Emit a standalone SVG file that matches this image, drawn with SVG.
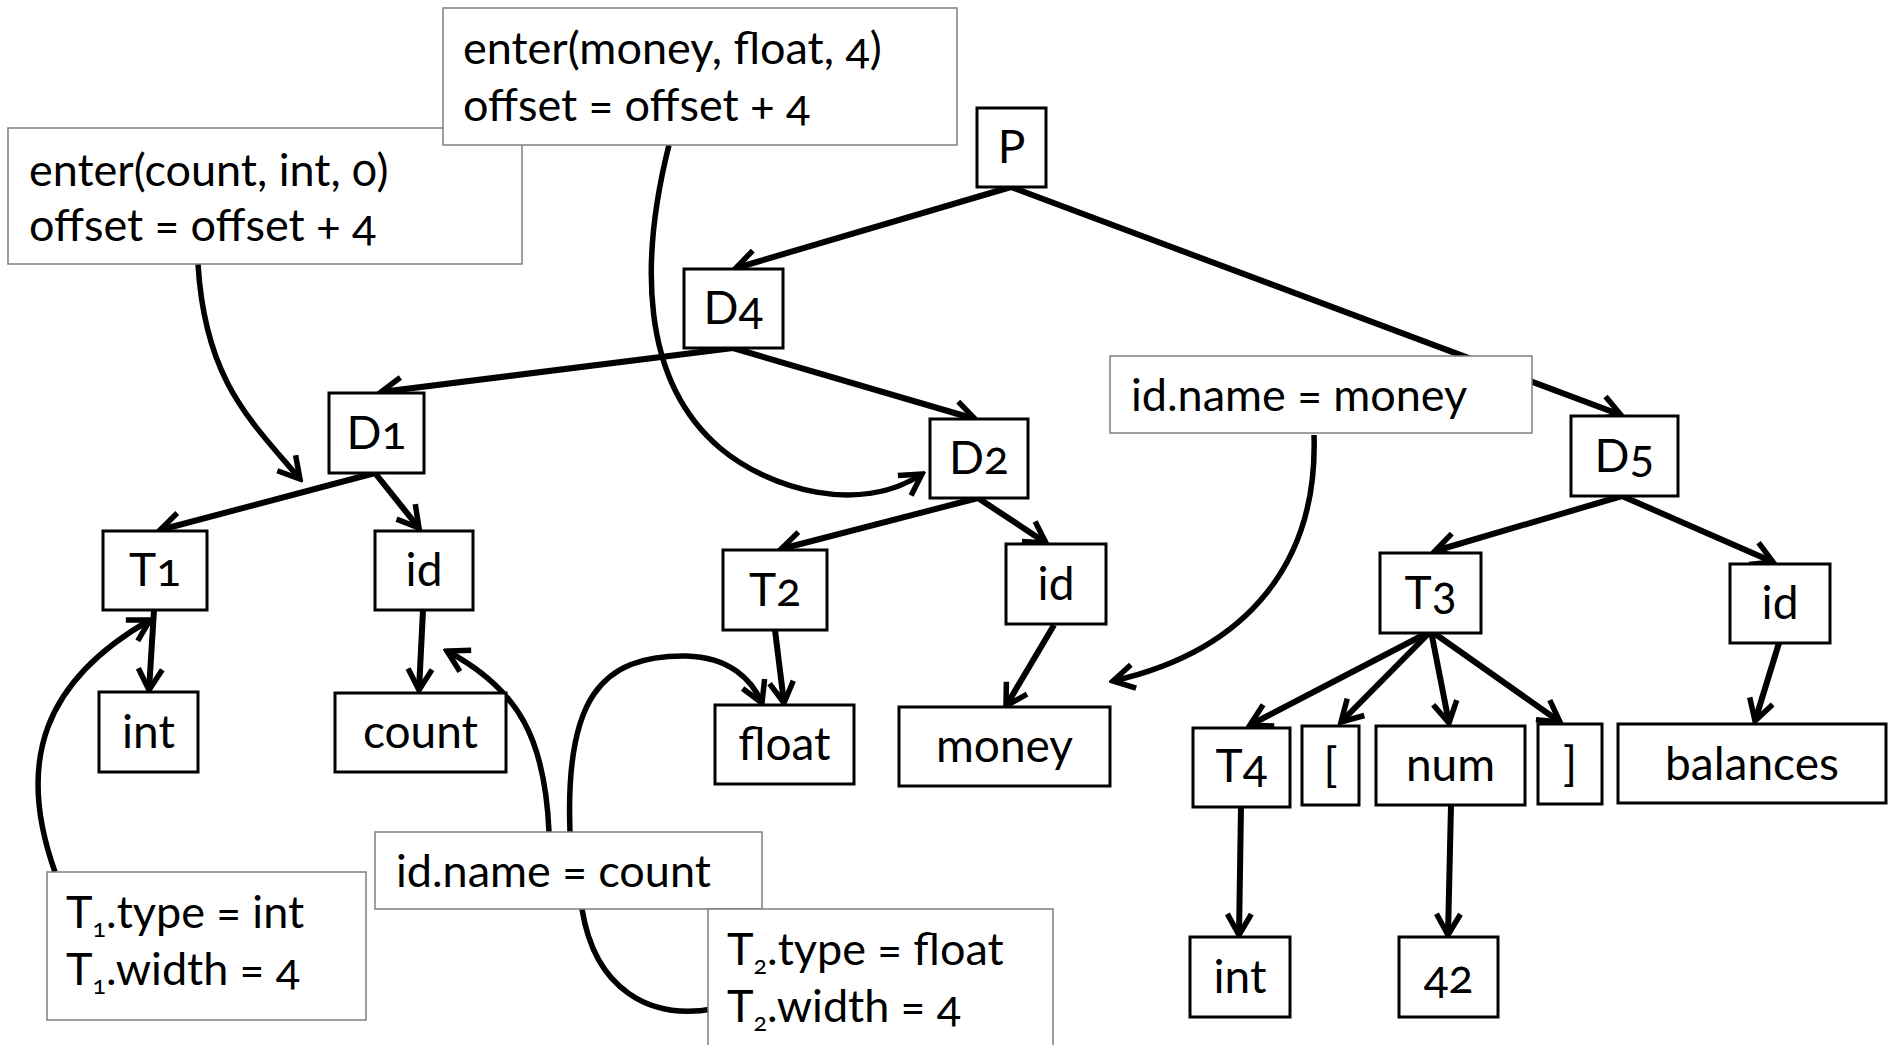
<svg xmlns="http://www.w3.org/2000/svg" width="1893" height="1045" viewBox="0 0 1893 1045">
  <defs>
    <style>
      text { font-family: Lato, "Open Sans", "Liberation Sans", sans-serif; fill: #000; font-variant-numeric: oldstyle-nums; }
      .node rect { fill: #fff; stroke: #000; stroke-width: 3; }
      .node text { font-size: 46px; text-anchor: middle; }
      .note rect { fill: #fff; stroke: #7f7f7f; stroke-width: 1.5; }
      .note text { font-size: 45px; }
      .sub { font-size: 25px; }
      .edge { fill: none; stroke: #000; stroke-width: 6; marker-end: url(#chev); }
      .link { fill: none; stroke: #000; stroke-width: 5.5; }
      .link.arrow { marker-end: url(#chev); }
    </style>
    <marker id="chev" markerUnits="userSpaceOnUse" viewBox="-28 -18 32 36" markerWidth="32" markerHeight="36" refX="0" refY="0" orient="auto">
      <path d="M-21,-12 L0,0 L-21,12" fill="none" stroke="#000" stroke-width="5.5" stroke-linejoin="miter"/>
    </marker>
  </defs>

  <!-- parse tree edges -->
  <g id="connectors">
    <path class="edge" d="M1011,187 L736,268"/>
    <path class="edge" d="M1011,187 L1621,415"/>
    <path class="edge" d="M733,348 L381,392"/>
    <path class="edge" d="M733,348 L975,419"/>
    <path class="edge" d="M375,473 L160,530"/>
    <path class="edge" d="M375,473 L419,528"/>
    <path class="edge" d="M154,610 L149,690"/>
    <path class="edge" d="M423,610 L419,690"/>
    <path class="edge" d="M978,498 L781,549"/>
    <path class="edge" d="M978,498 L1046,543"/>
    <path class="edge" d="M775,630 L784,703"/>
    <path class="edge" d="M1054,625 L1006,706"/>
    <path class="edge" d="M1622,496 L1435,551"/>
    <path class="edge" d="M1622,496 L1773,562"/>
    <path class="edge" d="M1431,631 L1250,725"/>
    <path class="edge" d="M1431,631 L1341,722"/>
    <path class="edge" d="M1431,631 L1449,723"/>
    <path class="edge" d="M1431,631 L1560,722"/>
    <path class="edge" d="M1779,643 L1755,721"/>
    <path class="edge" d="M1241,807 L1239,935"/>
    <path class="edge" d="M1451,805 L1448,935"/>

    <!-- attribute annotations pointing into the tree -->
    <path class="link arrow" d="M198,264 C205,380 250,420 300,479"/>
    <path class="link arrow" d="M669,145 C640,260 640,380 720,448 C770,490 860,515 922,474"/>
    <path class="link arrow" d="M1314,435 C1318,560 1250,650 1113,681"/>
    <path class="link arrow" d="M55,872 C15,760 45,680 150,620"/>
    <path class="link arrow" d="M549,832 C545,740 520,690 447,651"/>
    <path class="link arrow" d="M570,832 C565,700 600,655 686,656 C730,657 752,680 762,703"/>
    <path class="link" d="M582,909 C595,990 650,1020 713,1009"/>
  </g>

  <!-- tree nodes -->
  <g id="n-P" class="node"><rect x="977" y="108" width="69" height="79"/><text x="1011.5" y="163">P</text></g>
  <g id="n-D4" class="node"><rect x="684" y="269" width="99" height="79"/><text x="733.5" y="324">D4</text></g>
  <g id="n-D1" class="node"><rect x="329" y="393" width="95" height="80"/><text x="376.5" y="449">D1</text></g>
  <g id="n-D2" class="node"><rect x="930" y="419" width="98" height="79"/><text x="979" y="474">D2</text></g>
  <g id="n-D5" class="node"><rect x="1571" y="416" width="107" height="80"/><text x="1624.5" y="472">D5</text></g>
  <g id="n-T1" class="node"><rect x="103" y="531" width="104" height="79"/><text x="155" y="586">T1</text></g>
  <g id="n-id1" class="node"><rect x="375" y="531" width="98" height="79"/><text x="424" y="586">id</text></g>
  <g id="n-T2" class="node"><rect x="723" y="550" width="104" height="80"/><text x="775" y="606">T2</text></g>
  <g id="n-id2" class="node"><rect x="1006" y="544" width="100" height="80"/><text x="1056" y="600">id</text></g>
  <g id="n-T3" class="node"><rect x="1380" y="553" width="101" height="80"/><text x="1430.5" y="609">T3</text></g>
  <g id="n-id3" class="node"><rect x="1730" y="564" width="100" height="79"/><text x="1780" y="619">id</text></g>
  <g id="n-int1" class="node"><rect x="99" y="692" width="99" height="80"/><text x="148.5" y="748">int</text></g>
  <g id="n-count" class="node"><rect x="335" y="693" width="171" height="79"/><text x="420.5" y="748">count</text></g>
  <g id="n-float" class="node"><rect x="715" y="705" width="139" height="79"/><text x="784.5" y="760">float</text></g>
  <g id="n-money" class="node"><rect x="899" y="707" width="211" height="79"/><text x="1004.5" y="762">money</text></g>
  <g id="n-T4" class="node"><rect x="1193" y="728" width="97" height="79"/><text x="1241.5" y="782">T4</text></g>
  <g id="n-lbr" class="node"><rect x="1302" y="726" width="57" height="79"/><text x="1330.5" y="781">[</text></g>
  <g id="n-num" class="node"><rect x="1376" y="726" width="149" height="79"/><text x="1450.5" y="781">num</text></g>
  <g id="n-rbr" class="node"><rect x="1538" y="724" width="64" height="80"/><text x="1570" y="780">]</text></g>
  <g id="n-balances" class="node"><rect x="1618" y="724" width="268" height="79"/><text x="1752" y="780">balances</text></g>
  <g id="n-int2" class="node"><rect x="1190" y="937" width="100" height="80"/><text x="1240" y="993">int</text></g>
  <g id="n-42" class="node"><rect x="1399" y="937" width="99" height="80"/><text x="1448.5" y="993">42</text></g>

  <!-- semantic action / attribute notes -->
  <g id="note-enter-count" class="note">
    <rect x="8" y="128" width="514" height="136"/>
    <text x="29" y="186">enter(count, int, 0)</text>
    <text x="29" y="241">offset = offset + 4</text>
  </g>
  <g id="note-enter-money" class="note">
    <rect x="443" y="8" width="514" height="137"/>
    <text x="463" y="64">enter(money, float, 4)</text>
    <text x="463" y="121">offset = offset + 4</text>
  </g>
  <g id="note-name-money" class="note">
    <rect x="1110" y="356" width="422" height="77"/>
    <text x="1131" y="411">id.name = money</text>
  </g>
  <g id="note-name-count" class="note">
    <rect x="375" y="832" width="387" height="77"/>
    <text x="396" y="887">id.name = count</text>
  </g>
  <g id="note-T1" class="note">
    <rect x="47" y="872" width="319" height="148"/>
    <text x="66" y="928">T<tspan class="sub" dy="9">1</tspan><tspan dy="-9">.type = int</tspan></text>
    <text x="66" y="985">T<tspan class="sub" dy="9">1</tspan><tspan dy="-9">.width = 4</tspan></text>
  </g>
  <g id="note-T2" class="note">
    <rect x="708" y="909" width="345" height="150"/>
    <text x="727" y="965">T<tspan class="sub" dy="9">2</tspan><tspan dy="-9">.type = float</tspan></text>
    <text x="727" y="1022">T<tspan class="sub" dy="9">2</tspan><tspan dy="-9">.width = 4</tspan></text>
  </g>
</svg>
